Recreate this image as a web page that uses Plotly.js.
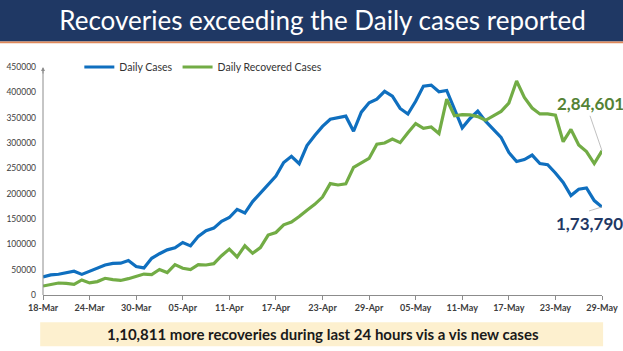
<!DOCTYPE html>
<html>
<head>
<meta charset="utf-8">
<script src="https://cdn.plot.ly/plotly-3.0.1.min.js"></script>
<style>html,body{margin:0;padding:0;background:#fff;}#chart{width:623px;height:351px;}</style>
</head>
<body>
<div id="chart"></div>
<script>
const startDate = '2021-03-18';
const dailyCases = [
  35871, 39726, 40953, 43846, 46951, 40715, 47262, 53476, 59118, 62258, 62714, 68020, 56211, 53480,
  72330, 81466, 89129, 93249, 103558, 96982, 115736, 126789, 131968, 145384, 152879, 168912, 161736, 184372,
  200739, 217353, 234692, 261500, 273810, 259170, 295041, 314835, 332730, 346786, 349691, 352991, 323144, 360960,
  379257, 386452,
  401993, 392488, 368147, 357229, 382315, 412262, 414188, 401078, 403738, 366161, 329942, 348421, 362727, 343144,
  326098, 311170, 281386, 263533, 267334, 276110, 259551, 257299, 240842, 222315, 196427, 208921, 211298, 186364,
  173790
];
const dailyRecovered = [
  17741, 20654, 23653, 22956, 21180, 29785, 23907, 26490, 32987, 30386, 28739, 32231, 37028, 41280,
  40382, 50356, 44202, 60048, 52847, 50143, 59856, 59258, 61899, 77567, 90584, 75086, 97168, 82339,
  93528, 118302, 123354, 138423, 144178, 154761, 167457, 178841, 193279, 219838, 217113, 219272, 251827, 261162,
  269507, 297540,
  299988, 307865, 300732, 320289, 338439, 329113, 331507, 318609, 386444, 353818, 356082, 355338, 352181, 344776,
  353299, 362437, 378741, 422436, 389851, 369077, 357295, 357630, 355102, 302544, 326850, 295955, 283135, 259459,
  284601
];
const seriesNames = ['Daily Cases', 'Daily Recovered Cases'];
const titleText = 'Recoveries exceeding the Daily cases reported';
const footerText = '1,10,811 more recoveries during last 24 hours vis a vis new cases';
const casesLabel = '1,73,790';
const recoveredLabel = '2,84,601';

const dates = [];
{
  const d0 = new Date(startDate + 'T00:00:00Z');
  for (let i = 0; i < dailyCases.length; i++) {
    const d = new Date(d0.getTime() + i * 86400000);
    dates.push(d.toISOString().slice(0, 10));
  }
}
const lastDate = dates[dates.length - 1];
const lastCases = dailyCases[dailyCases.length - 1];
const lastRecovered = dailyRecovered[dailyRecovered.length - 1];

const traces = [
  {x: dates, y: dailyCases, name: seriesNames[0], type: 'scatter', mode: 'lines',
   line: {color: '#0F6FBF', width: 3.2}},
  {x: dates, y: dailyRecovered, name: seriesNames[1], type: 'scatter', mode: 'lines',
   line: {color: '#72AC45', width: 3.2}}
];

const layout = {
  width: 623, height: 351,
  margin: {l: 43, r: 21, t: 67, b: 56, pad: 0},
  paper_bgcolor: '#ffffff', plot_bgcolor: '#ffffff',
  showlegend: true,
  legend: {orientation: 'h', x: 0.065, y: 1.0, xanchor: 'left', yanchor: 'middle',
           font: {family: 'Lato, sans-serif', size: 10.5, color: '#333'},
           itemwidth: 30, tracegroupgap: 0, bgcolor: 'rgba(0,0,0,0)'},
  title: {text: titleText, x: 0.5, xref: 'paper', xanchor: 'center', y: 0.94, yref: 'container', yanchor: 'middle',
          font: {family: 'Lato, sans-serif', size: 26, color: '#ffffff'}},
  xaxis: {type: 'date', range: [startDate, lastDate], tick0: startDate, dtick: 6 * 86400000,
          tickformat: '%d-%b', showgrid: false, zeroline: false,
          showline: true, linecolor: '#8c8c8c', linewidth: 1,
          ticks: 'outside', ticklen: 4, tickcolor: '#8c8c8c',
          tickfont: {family: 'Lato, sans-serif', size: 9, color: '#404040', weight: 'bold'}, fixedrange: true},
  yaxis: {range: [0, 450000], dtick: 50000, tickformat: 'd', showgrid: false, zeroline: false,
          showline: false, ticks: '', ticklabelstandoff: 6,
          tickfont: {family: 'Lato, sans-serif', size: 8.5, color: '#404040'}, fixedrange: true},
  shapes: [
    {type: 'rect', xref: 'paper', yref: 'paper', x0: -0.1, x1: 1.1, y0: 1.112, y1: 1.5,
     fillcolor: '#1F3864', line: {width: 0}, layer: 'below'},
    {type: 'rect', xref: 'paper', yref: 'paper', x0: -0.1, x1: 1.1, y0: 1.104, y1: 1.112,
     fillcolor: '#E0895A', line: {width: 0}, layer: 'below'},
    {type: 'rect', xref: 'paper', yref: 'paper', x0: -0.005, x1: 1.002, y0: -0.225, y1: -0.12,
     fillcolor: '#FDF0CF', line: {width: 0}, layer: 'below'},
    {type: 'line', xref: 'paper', yref: 'paper', x0: 0, x1: 0, y0: 0, y1: 0.985,
     line: {color: '#8c8c8c', width: 1}}
  ],
  annotations: [
    {xref: 'paper', yref: 'paper', x: 0, y: 1.0, showarrow: true, ax: 0, ay: 8,
     arrowhead: 2, arrowsize: 0.8, arrowwidth: 1, arrowcolor: '#8c8c8c', text: ''},
    {xref: 'paper', yref: 'paper', x: 0.5, y: -0.172, xanchor: 'center', yanchor: 'middle', showarrow: false,
     text: footerText, font: {family: 'Lato, sans-serif', size: 15, color: '#1a1a1a', weight: 'bold'}},
    {x: lastDate, y: lastRecovered, xref: 'x', yref: 'y', text: '<b>' + recoveredLabel + '</b>',
     showarrow: true, arrowhead: 0, arrowwidth: 0.8, arrowcolor: '#b0b0b0', ax: -12, ay: -35,
     xanchor: 'center', yanchor: 'bottom', standoff: 0,
     font: {family: 'Lato, sans-serif', size: 17, color: '#548235'}},
    {x: lastDate, y: lastCases, xref: 'x', yref: 'y', text: '<b>' + casesLabel + '</b>',
     showarrow: true, arrowhead: 0, arrowwidth: 0.8, arrowcolor: '#b0b0b0', ax: -13, ay: 4,
     xanchor: 'center', yanchor: 'top', standoff: 0,
     font: {family: 'Lato, sans-serif', size: 17, color: '#1F3864'}}
  ]
};

Plotly.newPlot('chart', traces, layout, {displayModeBar: false, staticPlot: true});
</script>
</body>
</html>
